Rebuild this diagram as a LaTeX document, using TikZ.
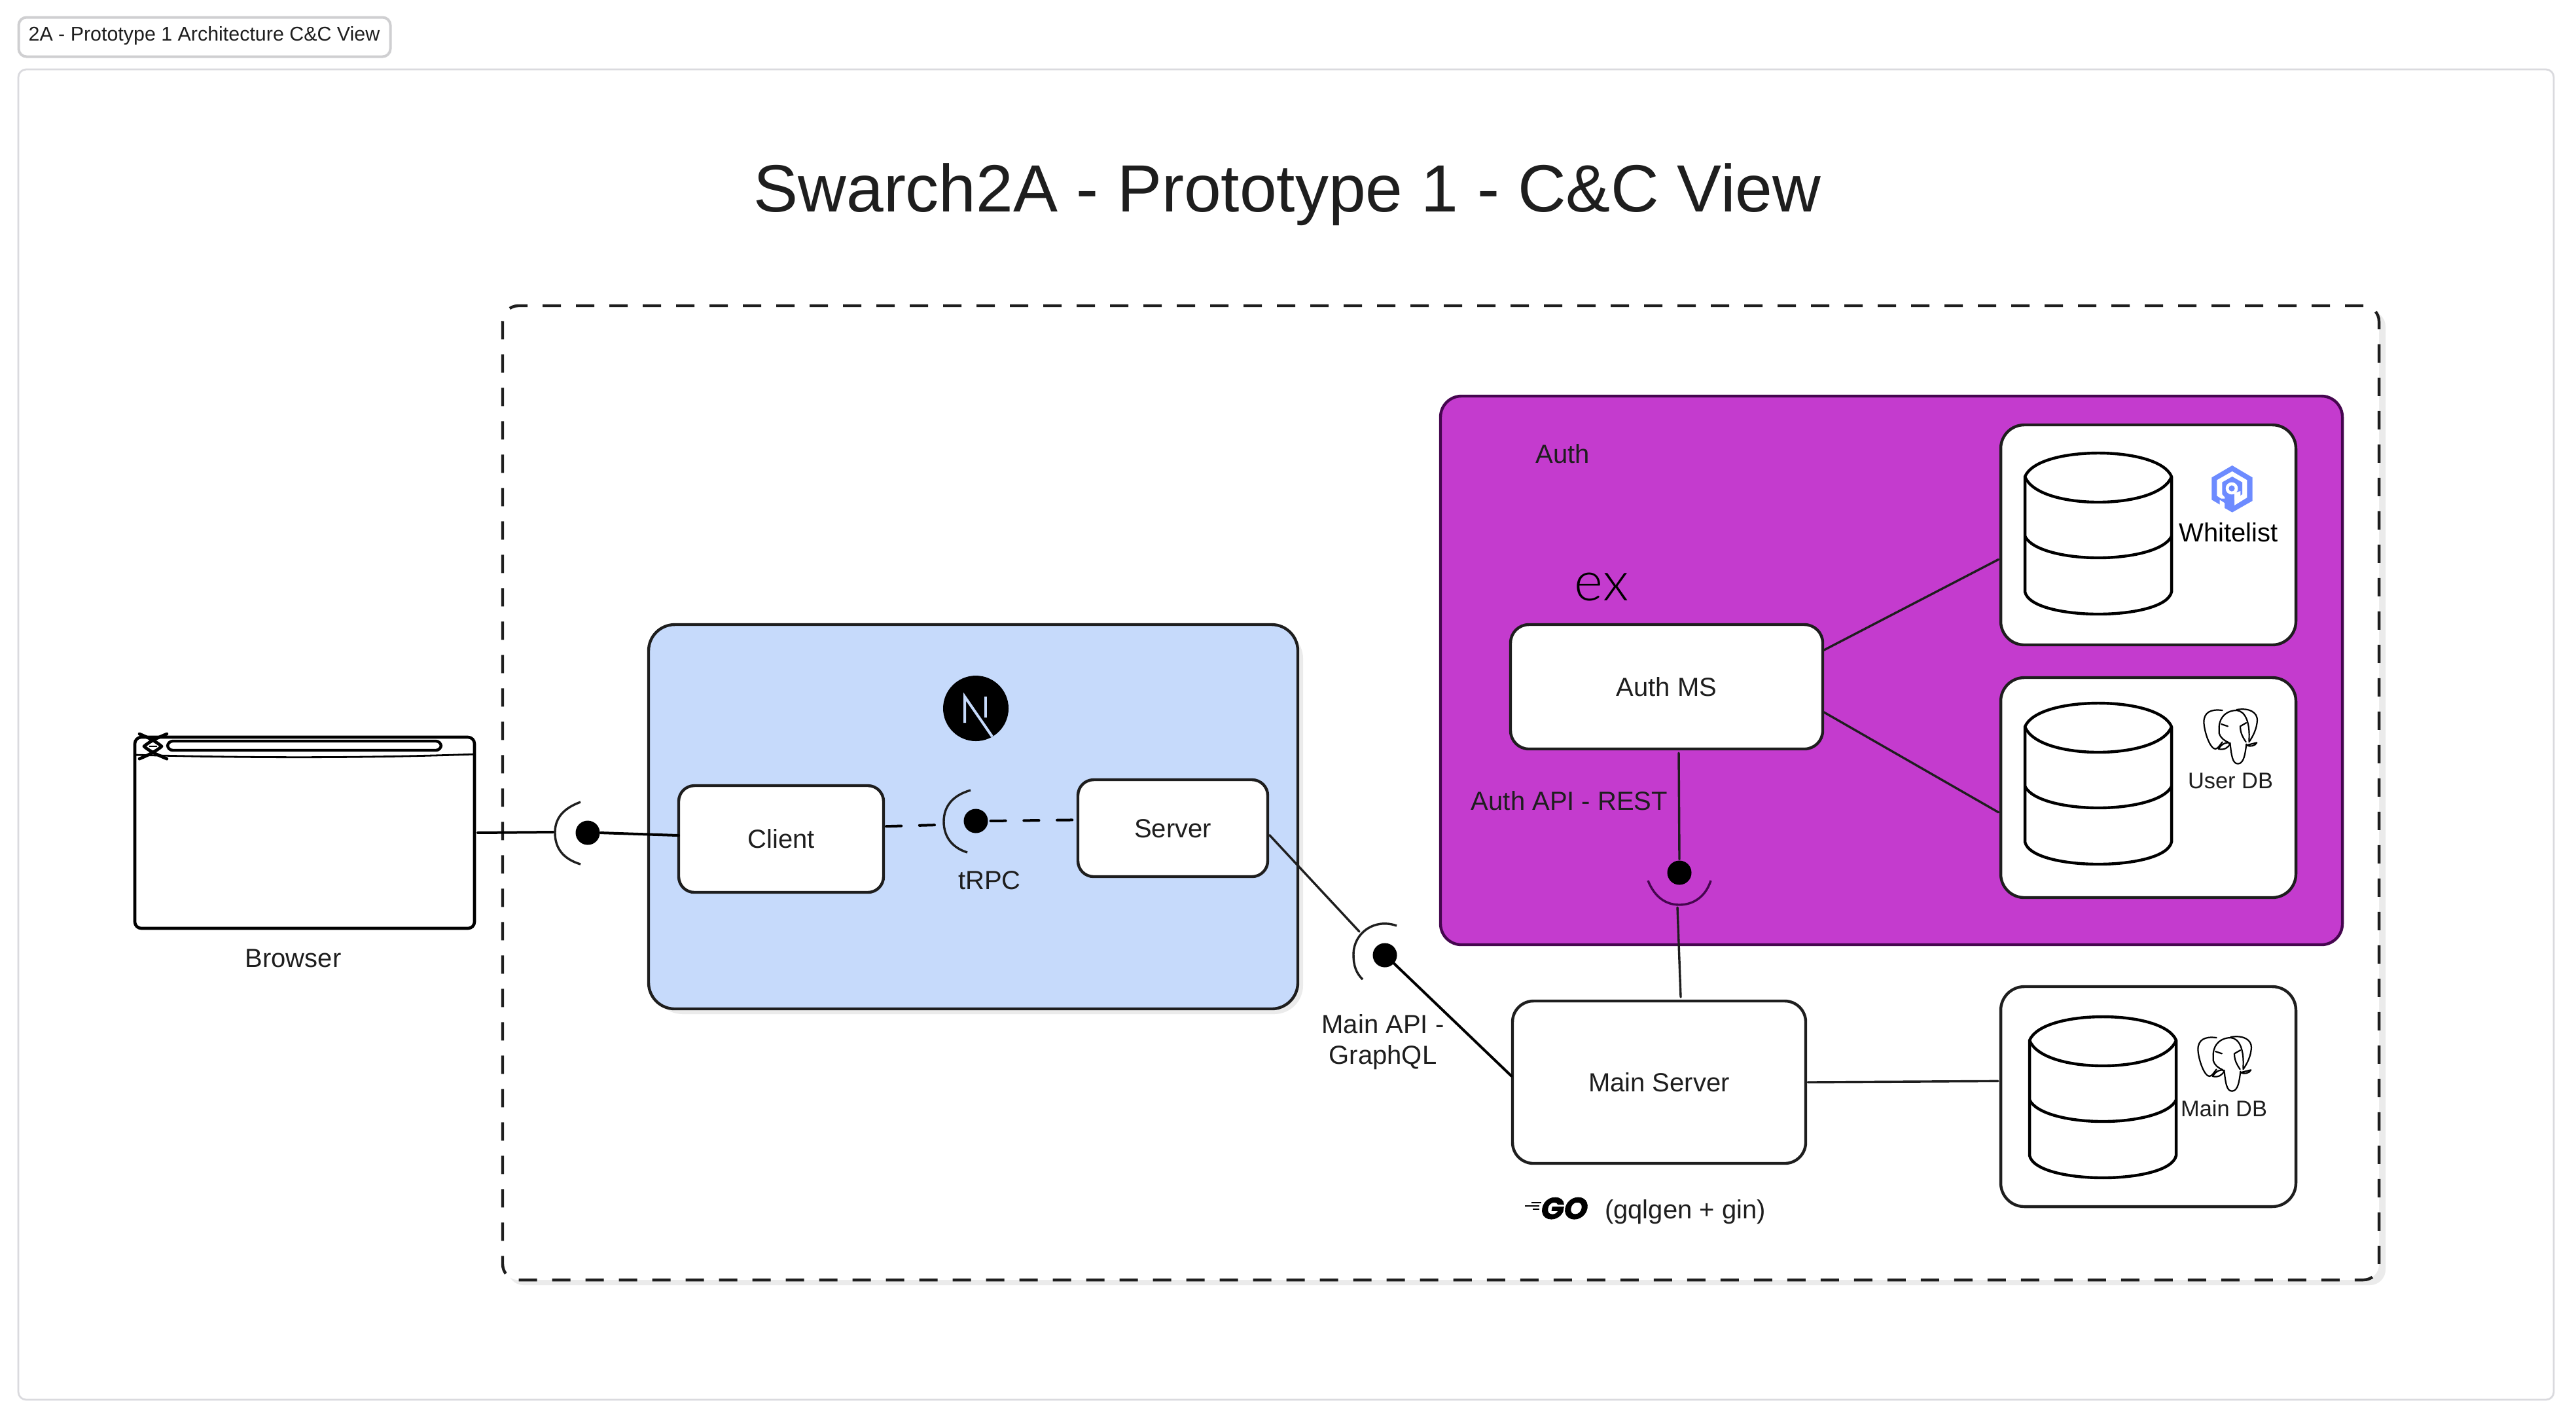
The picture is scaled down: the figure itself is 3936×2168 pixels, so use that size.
\documentclass[tikz,border=0pt]{standalone}
\usepackage{fontspec}
\setmainfont{Liberation Sans}
\newfontfamily\lightf{Lato Light}
\newfontfamily\gofont[FakeBold=2,FakeSlant=0.18]{Poppins Bold}
\usetikzlibrary{calc}
\definecolor{ink}{HTML}{1E1E1E}
\definecolor{framegrey}{HTML}{DADADE}
\definecolor{tabgrey}{HTML}{CFCFD1}
\definecolor{shadowgrey}{HTML}{EBEBEB}
\definecolor{bluefill}{HTML}{C6DAFB}
\definecolor{purplefill}{HTML}{C43BCE}
\definecolor{purpleedge}{HTML}{45064F}
\definecolor{hexblue}{HTML}{6D8BFF}
\tikzset{
  x=.25pt,y=-.25pt,
  txt/.style={inner sep=0pt,outer sep=0pt,text=ink,font=\fontsize{10}{12}\selectfont,text height=7.2pt,text depth=0pt},
  smalltxt/.style={txt,font=\fontsize{8.6}{10}\selectfont,text height=6.2pt},
  boxnode/.style={draw=ink,fill=white,line width=1.1pt,rounded corners=#1,inner sep=0pt,outer sep=0pt,
     text=ink,font=\fontsize{10}{12}\selectfont,text height=7.2pt,text depth=0pt},
  boxnode/.default=7pt,
  ball/.style={circle,fill=black,draw=none,minimum size=9.25pt,inner sep=0pt,outer sep=0pt},
  conn/.style={draw=ink,line width=.85pt,line cap=round},
  blackconn/.style={draw=black,line width=1pt,line cap=round},
  dashconn/.style={draw=black,line width=1pt,line cap=round,dash pattern=on 5.8pt off 6.9pt},
  arcline/.style={draw=ink,line width=.85pt},
  cyl/.style={draw=black,fill=white,line width=1.1pt,line join=round},
  eleph/.style={draw=black,line width=.55pt,line cap=round,line join=round},
}
\newcommand{\dbcyl}[2]{%
  \begin{scope}[shift={(#1,#2)}]
    \path[cyl] (0,36) .. controls (10,12) and (60,0) .. (112,0) .. controls (164,0) and (214,12) .. (224,36)
      -- (224,212) .. controls (219,235) and (164,246) .. (112,246) .. controls (60,246) and (5,235) .. (0,212) -- cycle;
    \path[cyl,fill=none] (0,36) .. controls (10,62) and (60,75) .. (112,75) .. controls (164,75) and (214,62) .. (224,36);
    \path[cyl,fill=none] (0,127) .. controls (10,148) and (60,160) .. (112,160) .. controls (164,160) and (214,148) .. (224,127);
  \end{scope}}
\newcommand{\elephant}[2]{%
  \begin{scope}[shift={(#1,#2)},x=.0833pt,y=-.0833pt]
    \path[eleph] (140,45) .. controls (85,38) and (55,55) .. (55,100) .. controls (58,150) and (85,222) .. (108,222) .. controls (120,220) and (128,205) .. (140,190);
    \path[eleph] (125,120) .. controls (128,70) and (165,45) .. (205,45) .. controls (245,48) and (268,100) .. (262,185);
    \path[eleph] (125,120) -- (125,150) .. controls (130,170) and (150,185) .. (168,192);
    \path[eleph] (205,42) .. controls (265,32) and (300,55) .. (300,90) .. controls (298,130) and (280,165) .. (262,190);
    \path[eleph] (175,195) .. controls (182,250) and (185,290) .. (212,290) .. controls (240,288) and (245,240) .. (250,200);
    \path[eleph] (222,118) .. controls (222,150) and (235,170) .. (248,190);
    \path[eleph] (135,108) -- (165,118);
    \path[eleph] (222,118) -- (250,102);
    \path[eleph] (122,222) .. controls (140,195) and (160,190) .. (175,195) .. controls (170,218) and (145,228) .. (122,222);
    \path[eleph] (250,205) -- (298,193) .. controls (290,210) and (265,212) .. (250,205);
  \end{scope}}
\begin{document}
\begin{tikzpicture}
\useasboundingbox[fill=white] (0,0) rectangle (3936,2168);
% tab and frame
\node[draw=tabgrey,line width=1pt,rounded corners=3pt,inner sep=0pt,minimum width=142pt,minimum height=15pt,fill=white] (tab) at (312.5,56.5) {};
\node[txt,font=\fontsize{7.6}{9}\selectfont,text height=5.5pt] (tabtext) at (312,51) {2A - Prototype 1 Architecture C\&C View};
\node[draw=framegrey,line width=.7pt,rounded corners=3pt,inner sep=0pt,minimum width=968.5pt,minimum height=508pt] (frame) at (1965,1122) {};
% title
\node[txt,font=\fontsize{25.5}{30}\selectfont,text height=18.3pt] (title) at (1967,287) {Swarch2A - Prototype 1 - C\&C View};
% system boundary
\draw[draw=none,fill=shadowgrey,rounded corners=6pt] (776,475) rectangle (3645,1963);
\node[draw=ink,fill=white,line width=1.1pt,rounded corners=6pt,dash pattern=on 7pt off 5.75pt,inner sep=0pt,minimum width=716.75pt,minimum height=372pt] (system) at (2201.5,1211) {};
% blue container
\draw[draw=none,fill=shadowgrey,rounded corners=11pt] (999,962) rectangle (1991,1549);
\node[draw=ink,fill=bluefill,line width=1.1pt,rounded corners=10pt,inner sep=0pt,minimum width=248pt,minimum height=146.75pt] (webapp) at (1487,1247.5) {};
% purple container
\node[draw=purpleedge,fill=purplefill,line width=1.1pt,rounded corners=8pt,inner sep=0pt,minimum width=344.5pt,minimum height=209.5pt] (authbox) at (2890,1024) {};
\node[txt] (authlabel) at (2388,693) {Auth};
\node[inner sep=0pt,outer sep=0pt,anchor=base,text=black,font=\lightf\fontsize{21}{24}\selectfont] (exlogo) at (2447,917) {ex};
% browser
\node[boxnode=2.5pt,draw=black,line width=1.15pt,minimum width=129.75pt,minimum height=73pt] (browser) at (465.5,1272) {};
\draw[black,line width=.7pt] (206,1153) .. controls (380,1158) and (560,1158) .. (725,1152);
\draw[black,fill=white,line width=1.1pt,rounded corners=2pt] (256,1132) rectangle (674,1146);
\fill[white] (220,1140) -- (233,1132) -- (247,1140) -- (233,1148) -- cycle;
\draw[black,line width=1.2pt,line cap=round,line join=round] (213,1121) .. controls (225,1126) and (238,1132) .. (247,1140) .. controls (238,1148) and (225,1154) .. (213,1159);
\draw[black,line width=1.2pt,line cap=round,line join=round] (255,1121) .. controls (243,1126) and (229,1132) .. (220,1140) .. controls (229,1148) and (243,1154) .. (255,1159);
\draw[black,line width=.6pt] (228,1140) -- (240,1140);
\node[txt] (browserlabel) at (448,1463) {Browser};
% web app parts
\node[boxnode=6pt,minimum width=78.25pt,minimum height=40.75pt] (client) at (1193.5,1281.5) {Client};
\node[boxnode=6pt,minimum width=72.5pt,minimum height=37pt] (server) at (1792,1265) {Server};
\node[circle,fill=black,draw=none,minimum size=25pt,inner sep=0pt,outer sep=0pt] (nextlogo) at (1491,1082) {};
\draw[bluefill,line width=1pt] (1474,1104) -- (1474,1064) -- (1516,1125);
\draw[bluefill,line width=1pt] (1506,1064) -- (1506,1096);
% provided/required interfaces
\node[ball] (ballA) at (898,1272) {};
\coordinate (arcAport) at (845,1271);
\draw[arcline] (887,1225) .. controls (860,1235) and (848,1250) .. (848,1272) .. controls (848,1295) and (860,1312) .. (887,1320);
\node[ball] (ballT) at (1491,1254) {};
\coordinate (arcTport) at (1433,1260);
\draw[arcline] (1483,1207) .. controls (1455,1215) and (1442,1232) .. (1442,1255) .. controls (1442,1278) and (1455,1295) .. (1478,1302);
\node[txt] (trpc) at (1512,1344) {tRPC};
\node[ball] (ballM) at (2116,1459) {};
\coordinate (arcMport) at (2077,1423);
\draw[arcline] (2134,1414) .. controls (2100,1402) and (2068,1425) .. (2068,1458) .. controls (2068,1475) and (2072,1486) .. (2082,1496);
\node[inner sep=0pt,outer sep=0pt,align=center,text=ink,font=\fontsize{10}{11.8}\selectfont] (mainapi) at (2113,1591.5) {Main API -\\GraphQL};
% auth parts
\node[boxnode=7pt,minimum width=119.25pt,minimum height=47.5pt] (authms) at (2546.5,1049) {Auth MS};
\node[ball] (ballR) at (2566,1333) {};
\coordinate (arcRport) at (2563,1386);
\draw[arcline,purpleedge] (2518,1345) .. controls (2528,1370) and (2545,1382) .. (2566,1382) .. controls (2587,1382) and (2606,1370) .. (2614,1345);
\node[txt] (authapi) at (2398,1223) {Auth API - REST};
% main server
\node[boxnode=8pt,minimum width=112pt,minimum height=62pt] (mainsrv) at (2535,1653) {Main Server};
\draw[black,line width=.7pt] (2340,1837) -- (2355,1837);
\draw[black,line width=.7pt] (2330,1842) -- (2352,1842);
\draw[black,line width=.7pt] (2342,1847) -- (2352,1847);
\node[inner sep=0pt,outer sep=0pt,text=black,font=\gofont\fontsize{11.5}{13}\selectfont,text height=8.4pt,text depth=0pt] (golabel) at (2388,1845) {GO};
\node[txt,text depth=0pt] (gqlgen) at (2575,1847) {(gqlgen + gin)};
% databases
\node[boxnode=9pt,minimum width=112.75pt,minimum height=84pt] (whitelist) at (3282.5,817) {};
\node[boxnode=9pt,minimum width=112.75pt,minimum height=84pt] (userdb) at (3282.5,1203) {};
\node[boxnode=9pt,minimum width=112.75pt,minimum height=84pt] (maindb) at (3282.5,1675) {};
\dbcyl{3094}{692}
\dbcyl{3094}{1074}
\dbcyl{3101}{1553}
\node[txt,text=black] (wltext) at (3405,813) {Whitelist};
\node[smalltxt] (udbtext) at (3408,1192) {User DB};
\node[smalltxt] (mdbtext) at (3398,1693) {Main DB};
\elephant{3340}{1570}
\elephant{3349}{1070}
% hexagon logo
\begin{scope}[shift={(3370,700)},x=.0833pt,y=-.0833pt]
  \fill[hexblue] (122,33) -- (215,88) -- (215,195) -- (122,248) -- (88,228) -- (88,205) -- (65,190) -- (65,212) -- (28,190) -- (28,88) -- cycle;
  \fill[white] (122,60) -- (190,100) -- (190,180) -- (122,222) -- (110,215) -- (110,185) -- (72,185) -- (52,172) -- (52,100) -- cycle;
  \fill[hexblue] (122,84) -- (168,110) -- (168,165) -- (132,190) -- (132,218) -- (190,186) -- (190,200) -- (122,240) -- (88,228) -- (88,178) -- (76,165) -- (76,110) -- cycle;
  \fill[white] (120,138) circle (28);
  \fill[hexblue] (120,138) circle (14);
  \fill[white] (132,160) -- (132,192) -- (160,176) -- (160,150) -- cycle;
\end{scope}
% connectors
\draw[blackconn,shorten <=1.25pt] (browser.east) -- (arcAport);
\draw[blackconn,shorten <=.3pt] (ballA.east) -- (client.178.7);
\draw[dashconn,shorten <=1pt] (client.7.7) -- (arcTport);
\draw[dashconn,shorten >=1.5pt,shorten <=1pt] (ballT.east) -- (server.175.3);
\draw[conn,shorten <=1pt] (server.-3.9) -- (arcMport);
\draw[blackconn,shorten >=.6pt] (ballM.-42) -- (mainsrv.178.7);
\draw[conn,shorten <=1.5pt,shorten >=.5pt] (authms.-79.3) -- (ballR.north);
\draw[conn,shorten >=1.5pt] (arcRport) -- (mainsrv.75.1);
\draw[conn,shorten <=.5pt,shorten >=1pt] (authms.13.4) -- (whitelist.189.3);
\draw[conn,shorten <=.5pt,shorten >=1pt] (authms.-9.5) -- (userdb.190);
\draw[conn,shorten <=.8pt,shorten >=1pt] (mainsrv.east) -- (maindb.174);
\end{tikzpicture}
\end{document}
